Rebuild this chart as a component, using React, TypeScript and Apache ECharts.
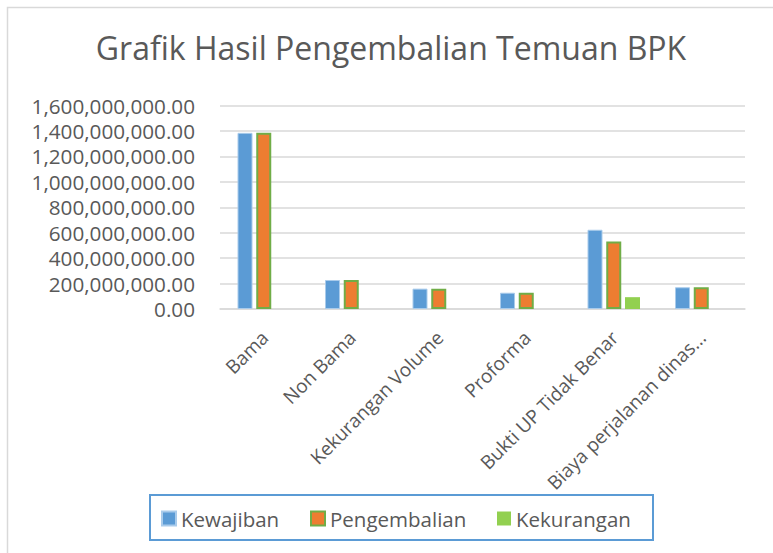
import React, { useEffect, useRef } from "react";
import * as echarts from "echarts";

const categories = [
  "Bama",
  "Non Bama",
  "Kekurangan Volume",
  "Proforma",
  "Bukti UP Tidak Benar",
  "Biaya perjalanan dinas...",
];
const kewajiban = [1385000000, 228000000, 160000000, 128000000, 623000000, 171000000];
const pengembalian = [1385000000, 228000000, 160000000, 128000000, 530000000, 171000000];
const kekurangan = [0, 0, 0, 0, 93000000, 0];
const seriesNames = ["Kewajiban", "Pengembalian", "Kekurangan"];
const titleText = "Grafik Hasil Pengembalian Temuan BPK";

const FONT = "'Open Sans', 'Noto Sans', sans-serif";
const GREY = "#595959";

export default function App() {
  const ref = useRef<HTMLDivElement>(null);
  useEffect(() => {
    if (!ref.current) return;
    const chart = echarts.init(ref.current, null, { renderer: "svg" });
    const legendBase = {
      orient: "horizontal",
      top: 508,
      padding: 0,
      itemWidth: 14,
      itemHeight: 14,
      icon: "rect",
      textStyle: { fontFamily: FONT, fontSize: 20.5, color: GREY },
    };
    chart.setOption({
      animation: false,
      backgroundColor: "#ffffff",
      legend: [
        { ...legendBase, left: 161, data: [seriesNames[0]] },
        { ...legendBase, left: 310, data: [seriesNames[1]] },
        { ...legendBase, left: 497, data: [seriesNames[2]] },
      ],
      grid: { left: 220, right: 28, top: 105.5, bottom: 244, containLabel: false },
      xAxis: {
        type: "category",
        data: categories,
        axisLine: { show: true, lineStyle: { color: "#D9D9D9", width: 1.5 } },
        axisTick: { show: false },
        axisLabel: {
          rotate: 45,
          margin: 13,
          interval: 0,
          align: "right",
          verticalAlign: "top",
          padding: [0, 8, 0, 0],
          fontFamily: FONT,
          fontSize: 19,
          color: GREY,
        },
      },
      yAxis: {
        type: "value",
        min: 0,
        max: 1600000000,
        interval: 200000000,
        axisLine: { show: false },
        axisTick: { show: false },
        splitLine: { lineStyle: { color: "#D9D9D9", width: 1.5 } },
        axisLabel: {
          margin: 25,
          fontFamily: FONT,
          fontSize: 20.7,
          color: GREY,
          formatter: (v: number) =>
            v.toLocaleString("en-US", { minimumFractionDigits: 2, maximumFractionDigits: 2 }),
        },
      },
      series: [
        {
          name: seriesNames[0],
          type: "bar",
          data: kewajiban,
          barWidth: 15,
          barGap: "25%",
          itemStyle: { color: "#5B9BD5", borderColor: "#A9CBEB", borderWidth: 1 },
        },
        {
          name: seriesNames[1],
          type: "bar",
          data: pengembalian,
          barWidth: 15,
          barGap: "25%",
          itemStyle: { color: "#ED7D31", borderColor: "#70AD47", borderWidth: 2 },
        },
        {
          name: seriesNames[2],
          type: "bar",
          data: kekurangan,
          barWidth: 15,
          barGap: "25%",
          itemStyle: { color: "#92D050" },
        },
      ],
      graphic: [
        {
          type: "rect",
          shape: { x: 7.5, y: 7.5, width: 900, height: 700 },
          style: { fill: "none", stroke: "#D9D9D9", lineWidth: 1.5 },
          silent: true,
          z: -1,
        },
        {
          type: "text",
          x: 391,
          y: 31,
          style: {
            text: titleText,
            fontFamily: FONT,
            fontSize: 32,
            fill: GREY,
            align: "center",
            verticalAlign: "top",
          },
          silent: true,
        },
        {
          type: "rect",
          shape: { x: 150, y: 495, width: 503, height: 45 },
          style: { fill: "none", stroke: "#5B9BD5", lineWidth: 2 },
          silent: true,
        },
      ],
    });
    return () => chart.dispose();
  }, []);
  return (
    <div
      ref={ref}
      style={{ position: "fixed", left: 0, top: 0, width: 773, height: 553 }}
    />
  );
}
